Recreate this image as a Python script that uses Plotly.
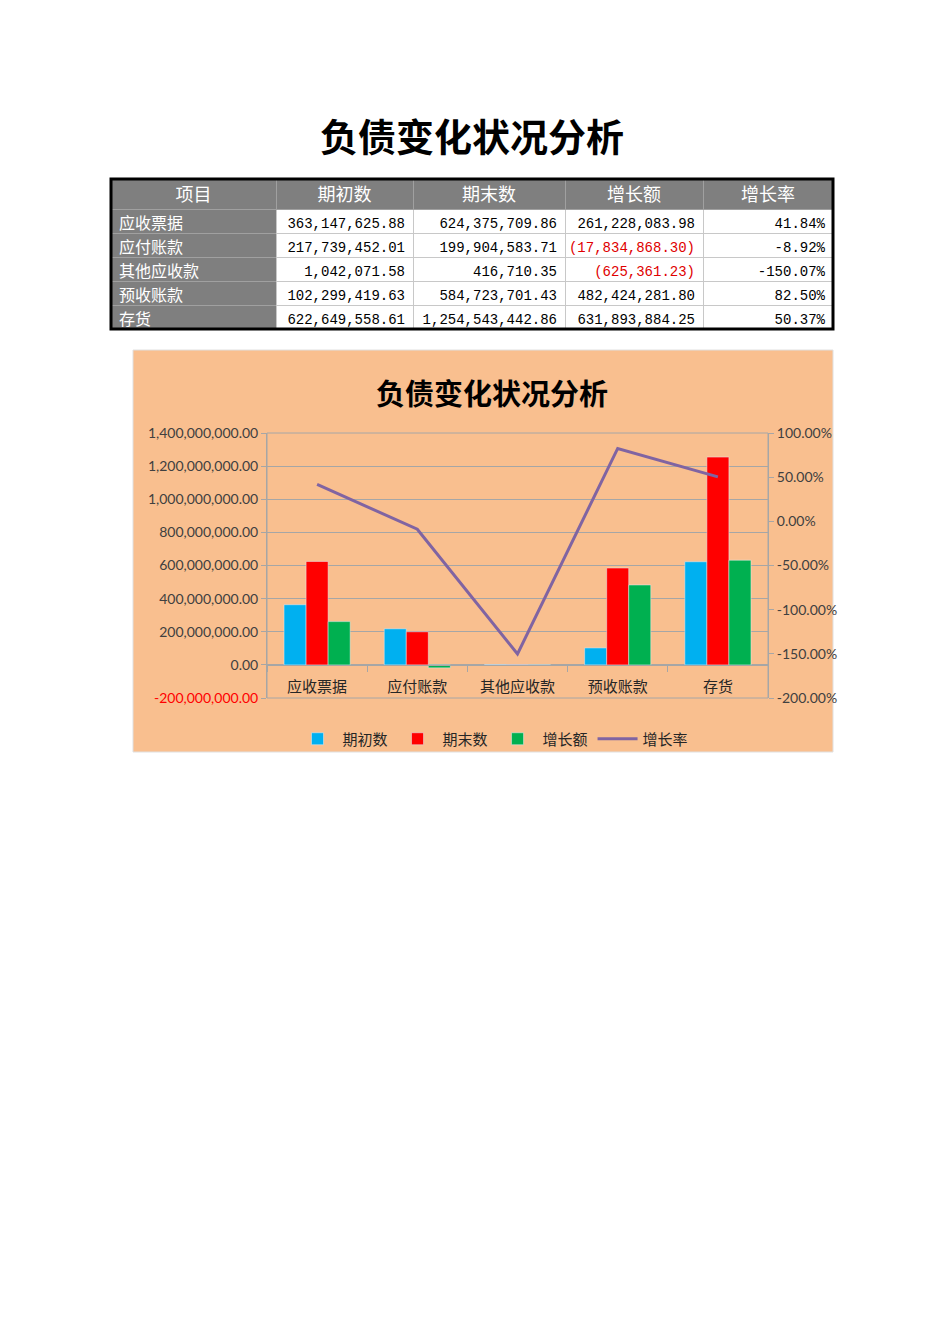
import plotly.graph_objects as go

# data
categories = ["应收票据", "应付账款", "其他应收款", "预收账款", "存货"]
opening = [363147625.88, 217739452.01, 1042071.58, 102299419.63, 622649558.61]
closing = [624375709.86, 199904583.71, 416710.35, 584723701.43, 1254543442.86]
change = [261228083.98, -17834868.30, -625361.23, 482424281.80, 631893884.25]
rate = [41.84, -8.92, -150.07, 82.50, 50.37]

header = ["项目", "期初数", "期末数", "增长额", "增长率"]
left_ticks = [-200000000, 0, 200000000, 400000000, 600000000,
              800000000, 1000000000, 1200000000, 1400000000]
right_ticks = [-200, -150, -100, -50, 0, 50, 100]

# page body has an 8px margin, so the figure is 16px smaller than the window
PAD = 8
W, H = 950 - 2 * PAD, 1344 - 2 * PAD


def px_x(p):
    return (p - PAD) / W


def px_y(p):
    return 1 - (p - PAD) / H


def money(v):
    if v < 0:
        return "({:,.2f})".format(-v)
    return "{:,.2f}".format(v)


GRAY = "#7f7f7f"
GRID = "#a6a6a6"
FONT_CN = "Noto Sans CJK SC"
FONT_CHART = "Lato, Noto Sans CJK SC"
FONT_NUM = "Liberation Mono"

fig = go.Figure()

#
# TABLE
#
col_text = [
    categories,
    [money(v) for v in opening],
    [money(v) for v in closing],
    [money(v) for v in change],
    ["{:.2f}%".format(r) for r in rate],
]
change_colors = ["#e00000" if v < 0 else "black" for v in change]

fig.add_trace(go.Table(
    domain=dict(x=[px_x(111), px_x(833)], y=[px_y(335), px_y(179)]),
    columnwidth=[165, 137, 152, 138, 130],
    header=dict(
        values=header,
        fill_color=GRAY,
        line=dict(color="#a0a0a0", width=1),
        align="center",
        height=30,
        font=dict(family=FONT_CN, size=18, color="white"),
    ),
    cells=dict(
        values=col_text,
        fill_color=[[GRAY] * 5, ["white"] * 5, ["white"] * 5, ["white"] * 5, ["white"] * 5],
        line=dict(color=[["#a0a0a0"] * 5] + [["#c8c8c8"] * 5] * 4, width=1),
        align=["left", "right", "right", "right", "right"],
        height=24,
        font=dict(
            family=[FONT_CN, FONT_NUM, FONT_NUM, FONT_NUM, FONT_NUM],
            size=[16, 14, 14, 14, 14],
            color=[["white"] * 5, ["black"] * 5, ["black"] * 5, change_colors, ["black"] * 5],
        ),
    ),
))

#
# CHART
#
fig.add_trace(go.Bar(name="期初数", x=categories, y=opening, marker_color="#00b0f0"))
fig.add_trace(go.Bar(name="期末数", x=categories, y=closing, marker_color="#ff0000"))
fig.add_trace(go.Bar(name="增长额", x=categories, y=change, marker_color="#00b050"))
fig.add_trace(go.Scatter(name="增长率", x=categories, y=rate, yaxis="y2",
                         mode="lines", line=dict(color="#8064a2", width=3)))

left_text = []
for t in left_ticks:
    s = "{:,.2f}".format(t)
    if t < 0:
        s = '<span style="color:#ff0000">' + s + "</span>"
    left_text.append(s)
right_text = ["{:.2f}%".format(t) for t in right_ticks]

fig.update_layout(
    width=W, height=H,
    margin=dict(l=0, r=0, t=0, b=0, autoexpand=False),
    paper_bgcolor="white",
    plot_bgcolor="rgba(0,0,0,0)",
    font=dict(family=FONT_CHART, size=14, color="#404040"),
    barmode="group",
    bargap=0.34,
    bargroupgap=0,
    xaxis=dict(
        domain=[px_x(267), px_x(768)],
        anchor="free", position=px_y(665),
        showline=True, linecolor=GRID, linewidth=1,
        ticks="outside", ticklen=6, tickcolor=GRID,
        tickson="boundaries",
        ticklabelstandoff=8,
        showgrid=False,
        tickfont=dict(family=FONT_CN, size=15, color="#262626"),
    ),
    yaxis=dict(
        domain=[px_y(698), px_y(433)],
        range=[-200000000, 1400000000],
        tickvals=left_ticks, ticktext=left_text,
        showgrid=True, gridcolor=GRID, gridwidth=1,
        zeroline=False,
        showline=True, linecolor=GRID,
        ticks="outside", ticklen=5, tickcolor=GRID,
    ),
    yaxis2=dict(
        overlaying="y", side="right", anchor="x",
        range=[-200, 100],
        tickvals=right_ticks, ticktext=right_text,
        showgrid=False, zeroline=False,
        showline=True, linecolor=GRID,
        ticks="outside", ticklen=5, tickcolor=GRID,
    ),
    legend=dict(
        orientation="h", x=px_x(493), xanchor="center",
        y=px_y(739), yanchor="middle",
        font=dict(family=FONT_CN, size=15, color="#262626"),
        bgcolor="rgba(0,0,0,0)",
        itemwidth=40,
    ),
    showlegend=True,
)

# peach chart area behind the plot
fig.add_shape(type="rect", xref="paper", yref="paper",
              x0=px_x(133), x1=px_x(833), y0=px_y(752), y1=px_y(350),
              fillcolor="#f9bf8f", line=dict(color="#e0e0e0", width=1), layer="below")
# plot frame
fig.add_shape(type="rect", xref="x domain", yref="y domain", x0=0, x1=1, y0=0, y1=1,
              line=dict(color=GRID, width=1), layer="below")
# thick table border
fig.add_shape(type="rect", xref="paper", yref="paper",
              x0=px_x(111), x1=px_x(833), y0=px_y(329), y1=px_y(179),
              line=dict(color="black", width=3), layer="above")

fig.add_annotation(text="<b>负债变化状况分析</b>", xref="paper", yref="paper",
                   x=px_x(472), y=px_y(135), xanchor="center", yanchor="middle",
                   showarrow=False,
                   font=dict(family=FONT_CN, size=38, color="black"))
fig.add_annotation(text="<b>负债变化状况分析</b>", xref="paper", yref="paper",
                   x=px_x(492), y=px_y(392), xanchor="center", yanchor="middle",
                   showarrow=False,
                   font=dict(family=FONT_CN, size=29, color="black"))

fig.write_html("out.html")
